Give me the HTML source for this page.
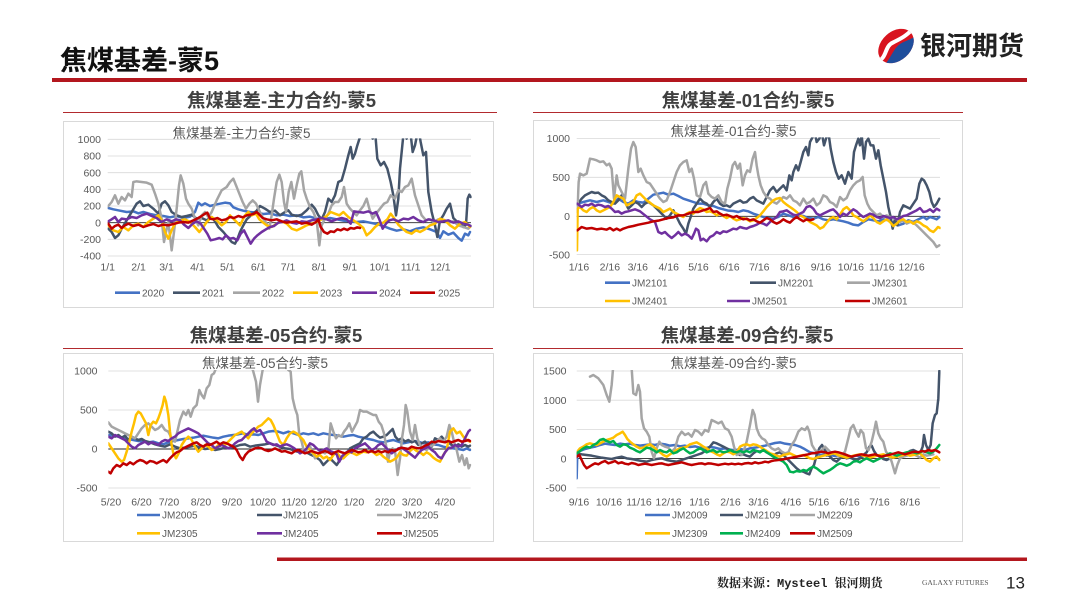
<!DOCTYPE html>
<html><head><meta charset="utf-8">
<style>
html,body{margin:0;padding:0;background:#fff;}
svg{display:block;}
text{font-family:"Liberation Sans","Noto Sans CJK SC",sans-serif;}
.tk{font-size:10.5px;fill:#595959;}
.lg{font-size:10px;fill:#595959;}
.s{fill:none;stroke-width:7.5;stroke-linejoin:round;stroke-linecap:round;}
.g{stroke:#d9d9d9;stroke-width:0.8;}
.z{stroke:#262626;stroke-width:0.9;}
.b1{stroke:#4472c4}.b2{stroke:#44546a}.b3{stroke:#a5a5a5}.b4{stroke:#ffc000}.b5{stroke:#7030a0}.b6{stroke:#c00000}.b7{stroke:#00b050}
</style></head><body>
<svg width="1080" height="608" viewBox="0 0 1080 608" xmlns="http://www.w3.org/2000/svg">
<defs>
<clipPath id="c1" clipPathUnits="userSpaceOnUse"><rect x="23" y="19" width="1092" height="356"/></clipPath>
<clipPath id="c2" clipPathUnits="userSpaceOnUse"><rect x="20" y="16" width="1092" height="355"/></clipPath>
<clipPath id="c3" clipPathUnits="userSpaceOnUse"><rect x="25" y="15" width="1089" height="357"/></clipPath>
<clipPath id="c4" clipPathUnits="userSpaceOnUse"><rect x="20" y="15" width="1092" height="356"/></clipPath>
<clipPath id="lc"><ellipse cx="896" cy="46" rx="20" ry="14.5" transform="rotate(-42 896 46)"/></clipPath>
</defs>

<!-- Header -->
<text x="60" y="70" font-size="27" font-weight="bold" fill="#111">焦煤基差-蒙5</text>
<rect x="52" y="78" width="975" height="4" fill="#b3171e"/>
<g clip-path="url(#lc)">
<rect x="870" y="20" width="60" height="55" fill="#d8141f"/>
<path d="M 880 70 C 892 58, 892 50, 900 44 C 906 40, 912 40, 925 30 L 930 75 Z" fill="#1f4e9c"/>
<path d="M 878 62 C 888 56, 884 46, 894 42 C 902 38, 906 36, 914 28" fill="none" stroke="#fff" stroke-width="4"/>
</g>
<text x="920" y="55" font-size="26" font-weight="bold" fill="#222">银河期货</text>

<!-- Subtitles -->
<text x="281.5" y="107" text-anchor="middle" font-size="18.5" font-weight="bold" fill="#404040">焦煤基差-主力合约-蒙5</text>
<text x="748" y="107" text-anchor="middle" font-size="18.5" font-weight="bold" fill="#404040">焦煤基差-01合约-蒙5</text>
<text x="276" y="342" text-anchor="middle" font-size="18.5" font-weight="bold" fill="#404040">焦煤基差-05合约-蒙5</text>
<text x="747" y="342" text-anchor="middle" font-size="18.5" font-weight="bold" fill="#404040">焦煤基差-09合约-蒙5</text>
<rect x="63" y="112" width="434" height="1" fill="#b22a2e"/>
<rect x="533" y="112" width="430" height="1" fill="#b22a2e"/>
<rect x="63" y="348" width="430" height="1" fill="#b22a2e"/>
<rect x="533" y="348" width="430" height="1" fill="#b22a2e"/>

<!-- Boxes -->
<rect x="63.5" y="121.5" width="430" height="186" fill="none" stroke="#d9d9d9"/>
<rect x="533.5" y="120.5" width="429" height="187" fill="none" stroke="#d9d9d9"/>
<rect x="63.5" y="353.5" width="430" height="188" fill="none" stroke="#d9d9d9"/>
<rect x="533.5" y="353.5" width="429" height="188" fill="none" stroke="#d9d9d9"/>

<!-- ============ CHART 1 ============ -->
<text x="241.5" y="138" text-anchor="middle" font-size="13.5" fill="#595959">焦煤基差-主力合约-蒙5</text>
<g>
<line class="g" x1="107.7" x2="471" y1="139.3" y2="139.3"/>
<line class="g" x1="107.7" x2="471" y1="156" y2="156"/>
<line class="g" x1="107.7" x2="471" y1="172.7" y2="172.7"/>
<line class="g" x1="107.7" x2="471" y1="189.3" y2="189.3"/>
<line class="g" x1="107.7" x2="471" y1="206" y2="206"/>
<line class="g" x1="107.7" x2="471" y1="239.3" y2="239.3"/>
<line class="g" x1="107.7" x2="471" y1="256" y2="256"/>
<line class="z" x1="107.7" x2="471" y1="222.7" y2="222.7"/>
</g>
<g class="tk" text-anchor="end">
<text x="101" y="143">1000</text><text x="101" y="159.7">800</text><text x="101" y="176.4">600</text><text x="101" y="193">400</text><text x="101" y="209.7">200</text><text x="101" y="226.4">0</text><text x="101" y="243">-200</text><text x="101" y="259.7">-400</text>
</g>
<g class="tk" text-anchor="middle">
<text x="107.7" y="270.5">1/1</text><text x="138.6" y="270.5">2/1</text><text x="166.5" y="270.5">3/1</text><text x="197.4" y="270.5">4/1</text><text x="227.3" y="270.5">5/1</text><text x="258.2" y="270.5">6/1</text><text x="288.1" y="270.5">7/1</text><text x="318.9" y="270.5">8/1</text><text x="349.8" y="270.5">9/1</text><text x="379.7" y="270.5">10/1</text><text x="410.6" y="270.5">11/1</text><text x="440.4" y="270.5">12/1</text>
</g>
<g transform="translate(100 132) scale(0.333333)"><g clip-path="url(#c1)">
<polyline class="s b1" points="25,228 40,232 60,236 80,240 100,238 115,244 130,240 150,246 170,250 190,252 210,256 230,252 250,258 270,254 285,240 295,212 305,220 315,214 330,222 345,218 360,215 375,212 390,214 400,226 415,232 430,236 450,240 470,242 490,246 510,244 530,250 550,248 570,252 590,250 610,256 630,254 650,260 670,262 690,258 710,262 730,266 750,268 770,270 790,268 810,272 830,276 850,282 870,290 890,296 910,292 930,298 950,290 970,286 990,292 1010,300 1020,318 1030,298 1045,308 1060,302 1075,318 1085,326 1095,305 1105,310 1110,300"/>
<polyline class="s b2" points="25,290 35,300 45,318 55,310 65,290 80,265 95,240 110,215 120,208 130,222 145,218 160,230 175,245 185,215 195,208 205,220 215,240 230,250 245,255 260,252 275,248 290,260 305,258 320,265 335,255 345,268 355,285 370,300 385,318 395,330 405,335 412,322 420,300 430,280 440,262 455,248 470,236 480,222 495,230 510,240 525,236 540,250 555,240 565,235 575,248 590,252 605,248 620,235 635,218 645,230 655,250 665,262 675,240 685,200 695,210 705,190 715,150 725,145 735,110 745,70 752,45 758,80 765,65 772,40 780,15 790,-10 800,5 810,-20 818,20 825,-5 832,80 842,100 852,90 862,110 872,150 880,190 888,250 895,200 900,110 905,60 912,-10 920,20 930,-10 938,60 945,40 955,-10 962,30 970,70 978,60 985,180 995,240 1005,280 1012,315 1020,265 1030,250 1040,230 1050,215 1060,258 1070,268 1080,275 1090,285 1098,278 1103,200 1108,188 1112,195"/>
<polyline class="s b3" points="25,222 35,210 45,190 55,215 65,195 75,205 85,185 95,195 100,150 110,148 125,150 140,152 155,158 165,185 175,215 185,260 192,330 198,300 205,270 215,355 222,300 230,230 237,160 242,130 250,155 258,200 265,215 275,230 285,260 295,280 305,250 315,240 325,255 335,240 350,205 365,175 380,165 390,150 400,140 408,160 418,185 428,210 438,230 448,215 458,205 468,215 480,240 490,260 500,275 508,290 515,250 522,200 530,150 538,128 545,150 552,210 558,240 566,180 574,150 582,200 590,160 598,125 604,118 612,175 620,200 630,225 640,240 650,265 658,340 665,280 675,260 685,245 695,220 705,210 715,210 725,195 732,165 740,215 750,230 760,240 770,250 780,235 790,222 800,200 808,230 818,260 828,245 840,230 852,215 862,210 872,190 885,200 895,175 905,180 915,165 925,160 935,140 945,190 955,220 965,250 978,265 990,262 1000,270 1015,262 1030,265 1045,272 1060,268 1075,280 1090,285 1105,290 1112,282"/>
<polyline class="s b4" points="25,280 40,295 55,300 70,285 85,295 100,280 115,275 130,285 145,270 160,260 175,250 185,265 195,300 205,320 215,295 225,275 240,265 255,262 270,270 285,285 298,300 310,285 320,270 335,255 350,265 365,280 378,270 390,250 405,265 420,280 435,250 445,240 455,250 468,245 478,262 490,272 500,280 515,285 530,275 545,268 560,275 575,290 590,295 605,288 620,280 635,275 650,270 665,262 680,252 692,240 705,245 718,250 730,240 745,255 760,265 775,275 790,288 800,310 812,300 825,285 838,275 850,272 862,262 872,245 882,258 895,278 908,290 920,300 935,305 948,295 960,300 975,292 990,280 1005,275 1020,260 1035,265 1050,280 1065,290 1080,275 1095,270 1110,285"/>
<polyline class="s b5" points="25,268 35,262 45,255 55,270 65,260 80,262 95,255 110,258 125,250 140,245 155,252 170,258 185,270 200,262 215,268 228,262 240,265 252,278 265,288 278,275 290,268 302,275 312,290 322,305 332,325 345,322 358,318 368,322 378,310 390,320 400,318 412,325 422,305 432,295 442,315 452,335 462,320 472,310 485,300 498,292 510,285 522,282 535,272 548,270 560,265 575,272 590,275 605,268 620,270 635,265 650,262 665,258 680,262 695,268 710,262 725,258 740,262 752,275 762,238 775,240 790,242 805,238 818,245 828,240 838,262 848,290 858,275 868,265 880,262 895,268 910,260 925,262 940,255 955,265 970,270 985,262 1000,265 1015,270 1030,268 1045,265 1060,272 1075,268 1090,275 1105,278 1112,282"/>
<polyline class="s b6" points="25,275 35,290 45,282 55,278 65,288 75,280 85,275 100,282 115,278 130,285 145,280 160,276 175,282 190,278 205,280 220,276 235,272 250,270 265,272 280,265 295,258 305,252 315,245 322,242 330,260 340,262 352,258 365,265 378,262 390,255 402,258 415,252 428,256 440,250 452,248 462,245 470,240 478,248 488,258 500,262 515,265 530,262 545,268 560,272 575,270 590,268 605,275 620,272 635,278 648,270 655,262 662,285 672,300 682,305 692,298 702,300 712,292 722,295 732,290 742,294 752,288 762,290 772,286 780,288"/>
</g></g>
<!-- legend 1 -->
<g stroke-width="2.6">
<line x1="115" x2="140" y1="292.7" y2="292.7" stroke="#4472c4"/>
<line x1="173" x2="200" y1="292.7" y2="292.7" stroke="#44546a"/>
<line x1="233" x2="260" y1="292.7" y2="292.7" stroke="#a5a5a5"/>
<line x1="293" x2="318" y1="292.7" y2="292.7" stroke="#ffc000"/>
<line x1="352" x2="377" y1="292.7" y2="292.7" stroke="#7030a0"/>
<line x1="410" x2="435" y1="292.7" y2="292.7" stroke="#c00000"/>
</g>
<g class="lg">
<text x="142" y="296.3">2020</text><text x="202" y="296.3">2021</text><text x="262" y="296.3">2022</text><text x="320" y="296.3">2023</text><text x="379" y="296.3">2024</text><text x="438" y="296.3">2025</text>
</g>

<!-- ============ CHART 2 ============ -->
<text x="733.5" y="136" text-anchor="middle" font-size="13.5" fill="#595959">焦煤基差-01合约-蒙5</text>
<line class="g" x1="576.7" x2="940" y1="138.5" y2="138.5"/>
<line class="g" x1="576.7" x2="940" y1="177.3" y2="177.3"/>
<line class="g" x1="576.7" x2="940" y1="254.6" y2="254.6"/>
<line class="z" x1="576.7" x2="940" y1="216.3" y2="216.3"/>
<g class="tk" text-anchor="end">
<text x="570" y="142.2">1000</text><text x="570" y="181">500</text><text x="570" y="220">0</text><text x="570" y="258.3">-500</text>
</g>
<g class="tk" text-anchor="middle">
<text x="579" y="270.5">1/16</text><text x="609.9" y="270.5">2/16</text><text x="637.8" y="270.5">3/16</text><text x="668.7" y="270.5">4/16</text><text x="698.5" y="270.5">5/16</text><text x="729.4" y="270.5">6/16</text><text x="759.3" y="270.5">7/16</text><text x="790.1" y="270.5">8/16</text><text x="821" y="270.5">9/16</text><text x="850.9" y="270.5">10/16</text><text x="881.8" y="270.5">11/16</text><text x="911.6" y="270.5">12/16</text>
</g>
<g transform="translate(570 132) scale(0.333333)"><g clip-path="url(#c2)">
<polyline class="s b1" points="22,215 40,210 60,205 80,210 100,205 115,210 130,215 145,200 160,210 175,215 190,205 205,210 220,212 235,200 250,188 265,185 280,182 295,188 310,185 325,192 340,200 355,205 370,210 385,215 400,215 415,220 430,222 445,228 460,232 475,236 490,237 505,240 520,235 535,238 550,245 565,250 580,255 595,258 610,260 625,255 640,245 655,250 670,255 685,250 700,252 715,258 730,260 745,255 760,262 775,265 790,262 805,265 820,268 835,272 850,278 865,280 880,270 895,262 910,265 925,268 940,262 955,265 970,272 985,280 1000,275 1015,265 1030,270 1045,262 1060,255 1070,262 1080,255 1090,258 1100,262 1108,255"/>
<polyline class="s b2" points="22,218 35,200 45,190 55,185 65,180 75,183 85,182 95,190 105,195 115,205 125,210 135,215 145,205 155,190 165,210 175,230 185,220 195,210 205,215 215,225 225,215 235,210 250,220 260,230 270,240 280,250 290,260 300,250 310,235 320,255 330,275 340,290 348,305 355,275 362,255 370,230 380,215 390,200 400,210 410,215 420,225 430,210 440,200 450,215 460,222 470,220 480,225 490,215 500,210 510,205 520,212 530,210 540,200 550,195 560,205 570,210 580,215 590,195 600,175 610,165 620,180 630,170 640,160 650,175 658,130 665,145 670,120 678,100 685,115 692,90 700,60 708,45 715,70 720,30 728,15 735,5 740,30 748,20 755,0 762,40 768,20 775,0 782,50 790,90 798,120 806,140 815,130 825,155 835,120 845,140 852,60 858,40 865,20 870,40 875,10 882,80 888,30 895,20 902,40 910,40 918,80 925,55 932,100 940,140 948,180 955,225 962,255 968,290 975,260 982,280 990,240 1000,220 1010,225 1020,230 1030,215 1040,200 1048,155 1055,140 1062,145 1070,160 1078,180 1085,210 1092,225 1100,215 1108,200"/>
<polyline class="s b3" points="22,240 26,150 30,125 40,130 50,125 60,80 70,82 80,85 90,90 100,88 110,100 118,95 125,110 132,200 140,130 145,160 155,180 165,200 175,110 183,50 190,30 197,45 205,120 212,110 220,130 230,150 240,155 250,170 260,185 270,200 280,210 290,205 300,180 310,150 320,120 330,100 340,90 350,85 358,120 365,110 372,140 380,190 390,195 400,160 408,150 415,185 425,195 435,200 445,190 455,210 465,215 472,170 480,140 488,100 495,90 503,110 510,95 518,160 525,130 532,115 540,120 548,80 555,60 560,100 565,130 572,160 580,180 590,195 600,200 610,210 620,215 630,205 640,195 650,200 660,190 670,205 680,210 690,220 700,200 710,215 720,210 730,200 740,220 750,212 760,190 770,195 780,210 790,215 800,225 810,195 820,205 830,198 840,175 850,160 860,150 870,145 878,135 884,190 892,215 900,230 910,240 920,250 930,245 940,255 950,250 960,255 970,258 980,262 990,270 1000,265 1010,275 1020,270 1030,272 1040,280 1050,290 1060,300 1070,310 1080,320 1090,330 1100,345 1108,340"/>
<polyline class="s b4" points="21,355 23,230 30,225 40,235 50,240 60,230 70,225 80,235 90,240 100,235 110,230 120,225 130,210 140,190 150,195 160,200 170,220 180,215 190,210 200,190 210,185 220,195 230,205 240,212 250,220 260,225 270,230 280,240 290,235 300,230 310,240 320,245 330,250 340,255 350,245 360,240 370,245 380,235 390,228 400,232 410,240 420,238 430,242 440,250 450,245 460,252 470,258 480,252 490,260 500,265 510,262 520,258 530,262 540,268 550,265 560,258 570,250 580,238 590,225 600,215 610,205 620,200 630,198 640,210 650,218 660,225 670,232 680,240 690,250 700,255 710,262 720,270 730,275 740,280 750,290 760,285 770,272 780,260 790,255 800,262 810,248 820,232 830,225 840,235 850,250 860,255 870,262 880,268 890,260 900,250 910,258 920,270 930,275 940,268 950,262 960,270 970,282 980,275 990,265 1000,262 1010,270 1020,268 1030,275 1040,268 1050,272 1060,280 1070,285 1080,295 1090,300 1098,292 1104,285 1110,288"/>
<polyline class="s b5" points="22,215 35,225 45,218 55,220 65,215 75,222 85,218 95,220 105,225 115,222 125,230 135,240 145,238 155,245 165,240 175,238 185,235 195,232 210,238 225,250 240,262 255,270 265,300 275,305 285,300 295,310 305,318 315,310 325,300 335,310 345,305 355,310 365,320 372,305 378,290 385,295 392,325 400,320 410,328 420,315 430,310 440,300 450,305 460,298 470,300 480,295 490,290 500,292 510,285 520,288 530,290 540,285 550,282 560,278 570,272 580,275 590,280 600,270 610,262 620,255 630,240 640,238 650,235 660,242 670,248 680,250 690,245 700,240 710,225 720,222 730,230 740,245 750,250 760,245 770,240 780,235 790,232 800,242 810,255 820,245 830,250 840,240 850,232 860,238 870,248 880,255 890,250 900,245 910,248 920,255 930,258 940,252 950,255 960,258 970,255 980,262 990,258 1000,252 1010,250 1020,245 1030,240 1040,235 1050,228 1060,240 1070,238 1080,232 1090,240 1100,230 1108,235"/>
<polyline class="s b6" points="22,295 35,285 50,290 65,288 80,292 95,290 110,293 120,288 130,295 140,290 150,295 160,290 175,285 190,282 205,278 220,275 235,272 250,268 265,266 280,262 295,258 310,256 325,250 340,250 355,245 370,240 385,240 400,235 410,232 420,228 430,240 440,238 450,245 460,250 470,248 480,252 490,256 500,252 510,258 520,262 530,260 540,265 550,262 560,268 570,272 580,265 590,258 600,262 610,270 620,275 630,270 640,262 650,268 660,272 670,262 680,255 690,262 700,268 710,262 720,265 730,262"/>
</g></g>
<g stroke-width="2.6">
<line x1="605" x2="630" y1="282.7" y2="282.7" stroke="#4472c4"/>
<line x1="750" x2="776" y1="282.7" y2="282.7" stroke="#44546a"/>
<line x1="847" x2="870" y1="282.7" y2="282.7" stroke="#a5a5a5"/>
<line x1="605" x2="630" y1="301" y2="301" stroke="#ffc000"/>
<line x1="727" x2="750" y1="301" y2="301" stroke="#7030a0"/>
<line x1="845" x2="870" y1="301" y2="301" stroke="#c00000"/>
</g>
<g class="lg">
<text x="632" y="286.3">JM2101</text><text x="778" y="286.3">JM2201</text><text x="872" y="286.3">JM2301</text>
<text x="632" y="304.6">JM2401</text><text x="752" y="304.6">JM2501</text><text x="872" y="304.6">JM2601</text>
</g>

<!-- ============ CHART 3 ============ -->
<text x="265" y="368" text-anchor="middle" font-size="13.5" fill="#595959">焦煤基差-05合约-蒙5</text>
<line class="g" x1="108.3" x2="470.7" y1="371" y2="371"/>
<line class="g" x1="108.3" x2="470.7" y1="410" y2="410"/>
<line class="g" x1="108.3" x2="470.7" y1="488" y2="488"/>
<line class="z" x1="108.3" x2="470.7" y1="449" y2="449"/>
<g class="tk" text-anchor="end">
<text x="97.5" y="374.7">1000</text><text x="97.5" y="413.7">500</text><text x="97.5" y="452.7">0</text><text x="97.5" y="491.7">-500</text>
</g>
<g class="tk" text-anchor="middle">
<text x="111" y="505.5">5/20</text><text x="141.5" y="505.5">6/20</text><text x="169" y="505.5">7/20</text><text x="201" y="505.5">8/20</text><text x="232" y="505.5">9/20</text><text x="263" y="505.5">10/20</text><text x="294" y="505.5">11/20</text><text x="324" y="505.5">12/20</text><text x="354" y="505.5">1/20</text><text x="385" y="505.5">2/20</text><text x="412" y="505.5">3/20</text><text x="445" y="505.5">4/20</text>
</g>
<g transform="translate(100 365) scale(0.333333)"><g clip-path="url(#c3)">
<polyline class="s b1" points="25,210 40,212 55,215 70,218 85,222 100,225 115,228 130,230 145,232 160,230 175,235 190,238 205,232 220,228 235,225 250,222 265,220 280,218 295,215 310,212 325,215 340,218 355,220 370,215 385,212 400,210 415,208 430,205 445,210 460,208 475,210 490,205 505,200 520,198 535,200 550,205 565,200 580,205 595,210 610,205 625,208 640,205 655,210 670,205 685,208 700,210 715,212 730,215 745,212 760,210 775,215 790,218 805,222 820,225 835,230 850,232 865,228 880,225 895,230 910,235 925,232 940,228 955,230 970,235 985,232 1000,238 1015,240 1030,245 1045,248 1060,250 1075,252 1090,255 1100,250 1110,255"/>
<polyline class="s b2" points="25,200 35,205 45,215 55,210 65,218 75,212 85,225 95,215 105,220 115,225 125,222 135,228 150,232 165,238 180,242 195,245 210,238 225,245 240,250 255,248 270,245 285,242 300,248 315,252 330,250 345,255 360,252 375,248 390,250 405,245 420,240 435,238 450,245 465,242 480,240 495,238 510,235 525,240 540,245 555,250 570,252 585,258 600,262 615,260 630,268 645,275 660,285 670,300 680,290 690,280 700,290 710,300 720,285 730,275 740,265 750,250 760,245 770,240 780,235 790,220 800,215 810,205 820,200 830,210 840,218 850,215 860,210 870,200 878,192 886,215 895,225 905,220 915,230 925,225 935,232 945,228 955,240 965,235 975,230 985,240 995,245 1005,220 1015,225 1025,215 1035,228 1045,232 1055,240 1065,245 1075,238 1085,245 1095,240 1105,245 1110,242"/>
<polyline class="s b3" points="25,172 35,185 45,190 55,195 65,200 75,205 85,210 95,215 105,220 115,205 125,190 135,180 145,175 155,185 165,195 175,190 185,180 195,195 205,200 215,220 225,230 232,200 240,165 250,140 258,150 265,135 272,155 280,130 290,120 298,75 305,90 312,100 320,70 328,60 335,30 342,25 348,10 355,-10 362,5 372,-20 380,-5 390,-20 400,-10 410,-30 420,-10 430,-5 440,-20 450,-10 460,20 468,50 474,110 480,60 487,20 493,-10 500,-20 510,-10 520,-30 530,-10 540,-20 550,-5 558,-10 565,15 572,20 578,100 585,130 592,150 598,210 605,230 612,260 620,255 628,240 635,255 645,280 655,270 665,260 675,265 685,255 692,175 700,200 708,220 716,210 724,215 732,200 740,190 748,175 756,200 764,185 772,170 780,135 790,140 800,140 810,145 820,150 828,150 836,170 844,180 852,205 858,240 864,290 870,260 878,250 886,265 893,330 900,280 906,220 912,180 917,120 922,140 930,200 938,225 945,180 952,220 960,240 970,250 980,255 990,245 1000,240 1010,230 1020,220 1030,230 1040,215 1048,180 1055,200 1062,230 1070,255 1078,290 1086,270 1094,300 1100,280 1106,310 1110,300"/>
<polyline class="s b4" points="25,235 35,250 45,265 55,280 65,290 72,285 80,260 88,230 95,200 102,175 108,150 115,140 122,145 130,160 138,175 145,210 152,180 160,170 168,175 175,160 182,140 188,120 193,95 198,110 205,150 210,200 215,240 220,265 228,280 236,265 245,240 255,225 265,215 275,225 285,245 295,260 305,250 315,240 325,245 335,255 345,250 355,240 365,235 375,240 385,230 395,220 405,210 415,205 425,200 435,210 445,220 455,205 465,195 475,185 485,180 495,170 505,160 512,165 520,180 530,205 540,230 550,240 560,220 570,205 580,200 590,205 600,215 610,225 620,245 630,255 640,265 650,275 660,270 670,280 680,275 690,285 700,270 710,262 720,275 730,280 740,270 750,262 760,265 770,270 780,265 790,260 800,262 810,258 820,262 830,270 840,265 850,275 860,282 870,290 880,285 890,278 900,262 910,270 920,272 930,258 940,250 950,258 960,262 970,270 980,262 990,268 1000,278 1010,285 1020,290 1030,270 1040,255 1050,200 1060,190 1070,205 1080,200 1090,215 1100,225 1110,230"/>
<polyline class="s b5" points="25,215 35,220 45,210 55,215 65,220 75,225 85,235 95,245 105,250 115,240 125,235 135,230 145,238 155,232 165,235 175,240 185,230 195,225 205,228 215,220 225,215 235,205 245,200 255,195 265,190 275,195 285,200 295,205 305,215 315,225 325,235 335,240 345,250 355,245 365,240 375,245 385,250 395,245 405,235 415,228 425,225 435,215 445,205 455,195 462,190 470,200 480,195 490,210 500,230 510,235 520,240 530,238 540,245 550,240 560,238 570,242 580,248 590,255 600,265 610,260 620,250 630,235 640,240 650,250 660,258 670,255 680,250 690,258 700,262 710,268 718,290 725,275 735,265 745,258 755,262 765,250 775,245 785,240 795,235 805,245 815,255 825,250 835,240 845,235 855,245 865,255 875,265 885,258 895,250 905,248 915,255 925,262 935,270 945,278 955,265 965,255 975,250 985,245 995,255 1005,262 1015,275 1025,280 1035,262 1045,250 1055,248 1065,240 1075,245 1085,240 1095,220 1105,200 1110,195"/>
<polyline class="s b6" points="25,320 32,325 40,310 50,300 60,305 70,295 80,300 90,292 100,298 110,290 120,285 130,288 140,295 150,288 160,290 170,295 180,290 190,285 200,292 210,280 220,270 230,262 240,258 250,250 260,245 270,240 280,235 290,232 300,240 310,245 320,238 330,240 340,235 350,230 360,238 370,232 380,235 390,240 400,245 410,255 420,275 428,285 436,270 445,260 455,255 465,250 475,248 485,250 495,255 505,258 515,255 525,250 535,255 545,260 555,258 565,262 575,265 585,258 595,255 605,260 615,265 625,262 635,258 645,262 655,265 665,262 675,258 685,262 695,268 705,262 715,258 725,262 735,265 745,260 755,255 765,258 775,262 785,260 795,255 805,262 815,258 825,262 835,258 845,262 855,258 865,262 875,255 885,258 895,252 905,248 915,250 925,252 935,245 945,248 955,250 965,248 975,242 985,238 995,230 1005,232 1015,228 1025,230 1035,232 1045,228 1055,232 1065,228 1075,225 1085,230 1095,228 1105,225 1110,228"/>
</g></g>
<g stroke-width="2.6">
<line x1="137" x2="160" y1="515" y2="515" stroke="#4472c4"/>
<line x1="257" x2="282" y1="515" y2="515" stroke="#44546a"/>
<line x1="377" x2="402" y1="515" y2="515" stroke="#a5a5a5"/>
<line x1="137" x2="160" y1="533.3" y2="533.3" stroke="#ffc000"/>
<line x1="257" x2="282" y1="533.3" y2="533.3" stroke="#7030a0"/>
<line x1="377" x2="402" y1="533.3" y2="533.3" stroke="#c00000"/>
</g>
<g class="lg">
<text x="162" y="518.6">JM2005</text><text x="283" y="518.6">JM2105</text><text x="403" y="518.6">JM2205</text>
<text x="162" y="536.9">JM2305</text><text x="283" y="536.9">JM2405</text><text x="403" y="536.9">JM2505</text>
</g>

<!-- ============ CHART 4 ============ -->
<text x="733.5" y="368" text-anchor="middle" font-size="13.5" fill="#595959">焦煤基差-09合约-蒙5</text>
<line class="g" x1="576.7" x2="940" y1="371" y2="371"/>
<line class="g" x1="576.7" x2="940" y1="400.2" y2="400.2"/>
<line class="g" x1="576.7" x2="940" y1="429.4" y2="429.4"/>
<line class="g" x1="576.7" x2="940" y1="487.8" y2="487.8"/>
<line class="z" x1="576.7" x2="940" y1="458.6" y2="458.6"/>
<g class="tk" text-anchor="end">
<text x="566.5" y="374.7">1500</text><text x="566.5" y="403.9">1000</text><text x="566.5" y="433.1">500</text><text x="566.5" y="462.3">0</text><text x="566.5" y="491.5">-500</text>
</g>
<g class="tk" text-anchor="middle">
<text x="579" y="505.5">9/16</text><text x="609" y="505.5">10/16</text><text x="639" y="505.5">11/16</text><text x="668.5" y="505.5">12/16</text><text x="699.5" y="505.5">1/16</text><text x="730.5" y="505.5">2/16</text><text x="758.5" y="505.5">3/16</text><text x="791" y="505.5">4/16</text><text x="819" y="505.5">5/16</text><text x="849.5" y="505.5">6/16</text><text x="879.5" y="505.5">7/16</text><text x="910" y="505.5">8/16</text>
</g>
<g transform="translate(570 365) scale(0.333333)"><g clip-path="url(#c4)">
<polyline class="s b1" points="20,340 22,262 30,258 45,252 60,248 75,245 90,240 105,236 120,238 135,240 150,236 165,238 180,236 195,240 210,242 225,240 240,238 255,240 270,236 285,238 300,242 315,240 330,244 345,242 360,246 375,244 390,248 405,250 420,246 435,248 450,252 465,250 480,254 495,256 510,252 525,255 540,250 555,248 570,245 585,242 600,238 615,234 630,232 645,236 660,238 675,240 690,245 700,250 710,256 720,262 730,264 740,266 750,270 760,268 770,272 780,270 790,272 800,274 810,272 820,270 830,274 840,276 850,274 860,272 870,276 880,275"/>
<polyline class="s b2" points="20,265 35,268 50,270 65,272 80,275 95,278 110,280 125,282 140,278 155,275 170,280 185,282 200,285 215,288 230,290 245,285 260,282 275,280 290,285 305,288 320,290 335,285 350,280 365,275 380,270 395,265 410,255 420,245 430,232 440,235 450,240 460,245 470,250 480,255 490,260 500,265 510,270 520,268 530,272 540,275 550,265 560,258 570,260 580,255 590,262 600,268 610,272 620,265 630,262 640,270 650,280 660,290 670,300 680,310 690,318 700,320 710,325 718,328 725,310 732,300 740,270 748,250 756,240 764,255 772,265 780,275 790,285 800,290 810,280 820,275 830,280 840,278 850,282 860,285 870,280 880,270 890,262 898,245 905,242 912,258 920,270 930,275 940,282 950,285 960,280 970,278 980,275 990,272 1000,270 1010,265 1020,258 1030,255 1040,260 1050,265 1058,245 1062,210 1068,240 1075,255 1082,240 1088,175 1095,150 1100,145 1105,100 1108,18"/>
<polyline class="s b3" points="60,35 70,30 85,40 100,60 110,90 118,110 125,60 130,0 140,-40 180,-40 185,10 190,85 198,90 205,60 210,80 215,160 222,190 230,200 238,215 245,260 252,280 260,250 268,230 275,240 285,245 295,248 305,260 315,250 325,215 335,200 345,210 355,205 365,215 375,195 385,200 395,210 405,195 415,200 425,165 435,170 445,175 455,170 465,190 475,195 485,215 492,245 500,270 508,265 515,270 522,255 530,230 540,180 548,135 554,150 560,190 568,210 576,220 585,225 595,240 605,250 615,255 625,250 635,260 645,265 655,262 665,240 675,225 685,200 695,190 705,195 712,185 718,200 726,240 735,255 745,262 755,255 765,245 775,255 785,265 795,262 805,275 815,270 825,260 835,220 842,190 850,180 858,200 866,215 872,195 880,205 888,250 896,255 905,230 912,200 918,170 925,205 932,220 940,230 948,260 956,270 965,290 975,325 982,300 990,280 1000,275 1010,272 1020,270 1030,268 1040,272 1050,278 1060,268 1070,272 1080,270 1090,268"/>
<polyline class="s b4" points="20,262 30,250 40,245 50,238 60,235 70,238 80,240 90,235 100,230 110,225 120,222 130,218 140,210 150,205 158,200 165,210 172,222 180,230 190,238 200,245 210,250 220,248 230,242 240,238 250,245 260,255 270,262 280,270 290,275 300,268 310,262 320,255 330,250 340,248 350,245 360,238 370,235 380,232 390,238 400,245 410,250 420,258 430,262 440,268 450,272 460,265 470,260 480,262 490,268 500,262 510,245 520,240 530,238 540,242 550,238 560,240 570,245 580,252 590,258 600,265 610,268 620,272 630,275 640,270 650,268 660,265 670,270 680,275 690,272 700,270 710,275 720,280 730,282 740,278 750,275 760,272 770,270 780,268 790,265 800,268 810,272 820,275 830,278 840,275 850,272 860,270 870,268 880,272 890,275 900,278 910,275 920,272 930,270 940,268 950,272 960,275 970,278 980,275 990,272 1000,270 1010,268 1020,272 1030,270 1040,268 1050,265 1060,275 1070,285 1080,290 1090,280 1100,275 1108,285"/>
<polyline class="s b7" points="20,265 30,258 40,250 50,245 60,248 70,240 80,235 90,225 100,222 110,228 120,232 130,228 140,240 150,245 160,238 170,240 180,248 190,252 200,258 210,262 220,255 230,248 240,250 250,255 260,262 270,255 280,260 290,262 300,255 310,265 320,262 330,255 340,250 350,258 360,265 370,262 380,255 390,250 400,255 410,262 420,258 430,255 440,262 450,258 460,262 470,260 480,255 490,260 500,262 510,258 520,262 530,258 540,262 550,255 560,258 570,262 580,255 590,262 600,268 610,275 620,280 630,285 640,290 650,300 660,320 670,322 680,318 690,320 700,315 710,318 720,310 730,305 740,310 750,318 760,325 770,320 780,315 790,308 800,300 810,295 820,298 830,302 840,298 850,290 860,288 870,292 880,285 890,280 900,285 910,290 920,285 930,280 940,275 950,270 960,265 970,268 980,272 990,268 1000,265 1010,262 1020,260 1030,262 1040,265 1050,262 1060,258 1070,262 1080,265 1090,260 1100,250 1108,240"/>
<polyline class="s b6" points="20,275 28,270 35,285 42,300 50,310 58,305 66,300 75,295 85,298 95,292 105,288 115,295 125,292 135,288 145,295 155,292 165,296 175,298 185,294 195,296 205,300 215,298 225,296 235,298 245,300 255,298 265,296 275,295 285,298 295,300 305,298 315,296 325,294 335,292 345,295 355,298 365,300 375,298 385,296 395,295 405,298 415,295 425,296 435,298 445,300 455,298 465,296 475,298 485,296 495,298 505,296 515,298 525,295 535,294 545,296 555,292 565,295 575,293 585,290 595,292 605,288 615,286 625,285 635,284 645,282 655,280 665,278 675,276 685,274 695,272 705,270 715,268 725,265 735,264 745,262 755,260 765,262 775,265 785,262 795,260 805,262 815,265 825,268 835,272 845,275 855,272 865,270 875,268 885,270 895,272 905,270 915,268 925,272 935,275 945,272 955,270 965,268 975,265 985,262 995,265 1005,268 1015,265 1025,262 1035,260 1045,262 1055,258 1065,260 1075,255 1085,258 1095,255 1105,260 1108,262"/>
</g></g>
<g stroke-width="2.6">
<line x1="645" x2="670" y1="515" y2="515" stroke="#4472c4"/>
<line x1="720" x2="743" y1="515" y2="515" stroke="#44546a"/>
<line x1="790" x2="815" y1="515" y2="515" stroke="#a5a5a5"/>
<line x1="645" x2="670" y1="533.3" y2="533.3" stroke="#ffc000"/>
<line x1="720" x2="743" y1="533.3" y2="533.3" stroke="#00b050"/>
<line x1="790" x2="815" y1="533.3" y2="533.3" stroke="#c00000"/>
</g>
<g class="lg">
<text x="672" y="518.6">JM2009</text><text x="745" y="518.6">JM2109</text><text x="817" y="518.6">JM2209</text>
<text x="672" y="536.9">JM2309</text><text x="745" y="536.9">JM2409</text><text x="817" y="536.9">JM2509</text>
</g>

<!-- Footer -->
<rect x="277" y="557.5" width="750" height="3.5" fill="#b3171e"/>
<text x="717" y="587" style="font-family:'Liberation Mono','Noto Serif CJK SC',monospace" font-size="12" font-weight="bold" fill="#222">数据来源：Mysteel 银河期货</text>
<text x="922" y="585" style="font-family:'Liberation Serif',serif" font-size="7.5" fill="#555">GALAXY FUTURES</text>
<text x="1006" y="588.5" font-size="17" fill="#222">13</text>
</svg>
</body></html>
